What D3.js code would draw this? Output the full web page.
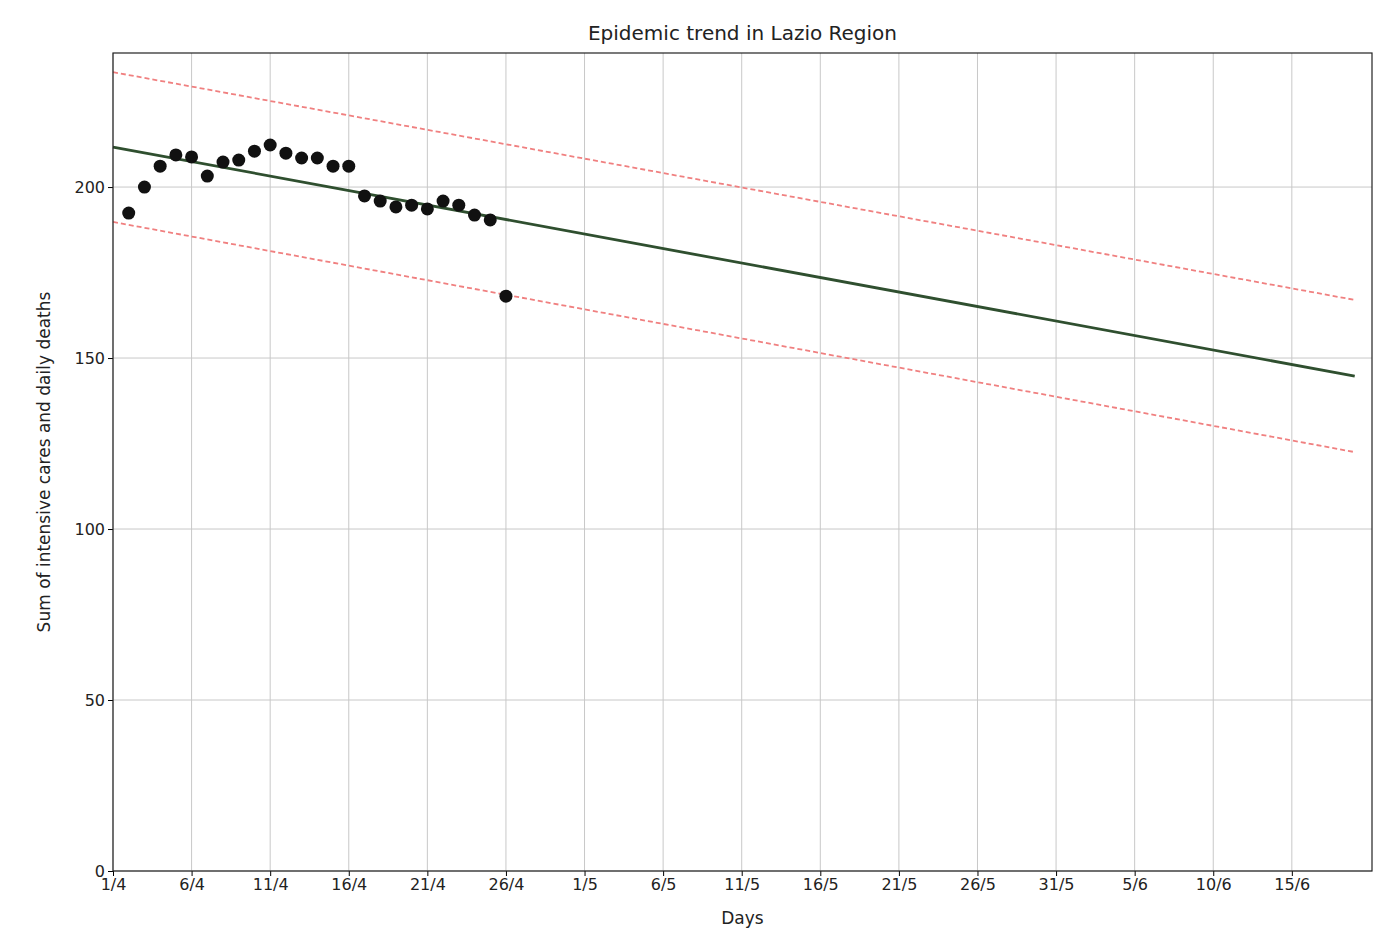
<!DOCTYPE html>
<html lang="en">
<head>
<meta charset="UTF-8">
<title>Epidemic trend in Lazio Region</title>
<script src="https://d3js.org/d3.v7.min.js"></script>
<style>
  body { margin: 0; background: #fff; }
  svg { font-family: "DejaVu Sans", sans-serif; }
  .grid line { stroke: #c8c8c8; stroke-width: 1; }
</style>
</head>
<body>
<script>
// days since 1/4
const obsDays = d3.range(1, 26);
const obsValues = [192.4, 200, 206.1, 209.4, 208.8, 203.2, 207.3, 207.9, 210.5, 212.3,
  209.9, 208.5, 208.5, 206.1, 206.1, 197.4, 195.9, 194.2, 194.7, 193.6,
  195.9, 194.7, 191.8, 190.4, 168.1];
const fitDays = [0, 79];
const fitValues = [211.7, 144.7];
const upperValues = [233.6, 167.0];
const lowerValues = [189.8, 122.5];
const xTickDays = [0, 5, 10, 15, 20, 25, 30, 35, 40, 45, 50, 55, 60, 65, 70, 75];
const xTickLabels = ["1/4", "6/4", "11/4", "16/4", "21/4", "26/4", "1/5", "6/5", "11/5",
  "16/5", "21/5", "26/5", "31/5", "5/6", "10/6", "15/6"];
const yTicks = [0, 50, 100, 150, 200];

const width = 1400, height = 940;
const m = { top: 53, right: 28, bottom: 69, left: 113 };
const svg = d3.select("body").append("svg").attr("width", width).attr("height", height);

const x = d3.scaleLinear().domain([0, 80.1]).range([m.left, width - m.right]);
const y = d3.scaleLinear().domain([0, 239.2]).range([height - m.bottom, m.top]);

// grid
svg.append("g").attr("class", "grid")
  .selectAll("line.v").data(xTickDays).enter().append("line")
  .attr("x1", d => x(d)).attr("x2", d => x(d)).attr("y1", m.top).attr("y2", height - m.bottom);
svg.append("g").attr("class", "grid")
  .selectAll("line.h").data(yTicks).enter().append("line")
  .attr("y1", d => y(d)).attr("y2", d => y(d)).attr("x1", m.left).attr("x2", width - m.right);

// axes
const xAxis = d3.axisBottom(x).tickValues(xTickDays).tickFormat((d, i) => xTickLabels[i]).tickSizeOuter(0).tickSize(5);
svg.append("g").attr("transform", `translate(0,${height - m.bottom})`).call(xAxis)
  .attr("font-size", 16).attr("font-family", "DejaVu Sans, sans-serif")
  .call(g => g.select(".domain").remove())
  .call(g => g.selectAll("text").attr("fill", "#222"));
const yAxis = d3.axisLeft(y).tickValues(yTicks).tickSizeOuter(0).tickSize(5);
svg.append("g").attr("transform", `translate(${m.left},0)`).call(yAxis)
  .attr("font-size", 16).attr("font-family", "DejaVu Sans, sans-serif")
  .call(g => g.select(".domain").remove())
  .call(g => g.selectAll("text").attr("fill", "#222"));

// confidence bands
const line = d3.line().x(d => x(d[0])).y(d => y(d[1]));
[upperValues, lowerValues].forEach(vals => {
  svg.append("path").datum(fitDays.map((d, i) => [d, vals[i]]))
    .attr("d", line).attr("fill", "none").attr("stroke", "#f08080")
    .attr("stroke-width", 1.8).attr("stroke-dasharray", "5,3");
});
// fit
svg.append("path").datum(fitDays.map((d, i) => [d, fitValues[i]]))
  .attr("d", line).attr("fill", "none").attr("stroke", "#2f4f2f").attr("stroke-width", 2.8);

// points
svg.append("g").selectAll("circle").data(obsDays).enter().append("circle")
  .attr("cx", d => x(d)).attr("cy", (d, i) => y(obsValues[i])).attr("r", 6.5).attr("fill", "#111");

// frame
svg.append("rect").attr("x", m.left).attr("y", m.top)
  .attr("width", width - m.left - m.right).attr("height", height - m.top - m.bottom)
  .attr("fill", "none").attr("stroke", "#222").attr("stroke-width", 1.2);

// labels
svg.append("text").attr("x", (m.left + width - m.right) / 2).attr("y", 40)
  .attr("text-anchor", "middle").attr("font-size", 20).attr("fill", "#222").text("Epidemic trend in Lazio Region");
svg.append("text").attr("x", (m.left + width - m.right) / 2).attr("y", 924)
  .attr("text-anchor", "middle").attr("font-size", 17).attr("fill", "#222").text("Days");
svg.append("text").attr("transform", `translate(50,${(m.top + height - m.bottom) / 2}) rotate(-90)`)
  .attr("text-anchor", "middle").attr("font-size", 17).attr("fill", "#222")
  .text("Sum of intensive cares and daily deaths");
</script>
</body>
</html>
